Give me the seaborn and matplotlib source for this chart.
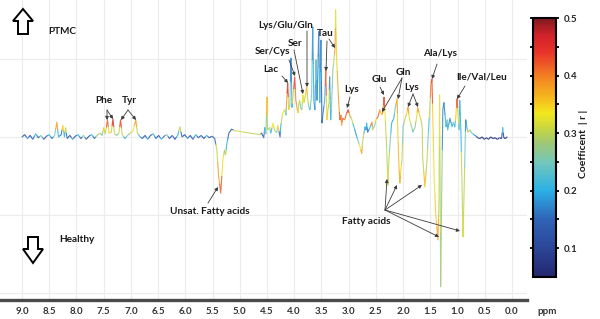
import numpy as np
import pandas as pd
import seaborn as sns
import matplotlib.pyplot as plt
from matplotlib.colors import LinearSegmentedColormap, Normalize
from matplotlib.cm import ScalarMappable
from matplotlib.patches import Polygon

# ---------------------------------------------------
# Data (ppm, loading, |r|)
# ---------------------------------------------------

# 9.0 - 4.6 ppm : aromatic baseline, Phe / Tyr, unsaturated fatty acid dip
arom_ppm = [9.00, 8.95, 8.90, 8.85, 8.80, 8.75, 8.70, 8.65, 8.60, 8.55, 8.50, 8.45, 8.40,
            8.36, 8.33, 8.28, 8.25, 8.22, 8.20, 8.17, 8.12, 8.07, 8.02, 7.97, 7.92, 7.87,
            7.82, 7.77, 7.72, 7.67, 7.62, 7.57, 7.53, 7.50, 7.47, 7.43, 7.40, 7.36, 7.33,
            7.30, 7.26, 7.22, 7.19, 7.16, 7.11, 7.06, 7.01, 6.96, 6.91, 6.88, 6.84, 6.79,
            6.74, 6.69, 6.64, 6.59, 6.54, 6.49, 6.44, 6.39, 6.34, 6.29, 6.24, 6.19, 6.14,
            6.10, 6.06, 6.01, 5.96, 5.91, 5.86, 5.81, 5.76, 5.71, 5.66, 5.61, 5.56, 5.51,
            5.46, 5.42, 5.39, 5.35, 5.31, 5.28, 5.26, 5.24, 5.20, 5.15, 5.09, 4.63]
arom_load = [0.00, 0.03, -0.02, 0.02, -0.03, 0.04, -0.01, 0.02, -0.03, 0.01, 0.03, -0.02, 0.02,
             0.19, 0.00, 0.03, 0.15, 0.00, 0.12, -0.02, 0.02, -0.03, 0.01, 0.03, -0.02, 0.02,
             -0.03, 0.01, 0.03, -0.02, 0.02, 0.05, 0.02, 0.12, 0.04, 0.22, 0.05, 0.06, 0.23,
             0.04, 0.02, 0.05, 0.22, 0.03, -0.02, 0.02, 0.05, 0.08, 0.22, 0.05, 0.01, -0.02,
             0.02, -0.03, 0.02, 0.04, -0.02, 0.02, -0.03, 0.01, 0.03, -0.02, 0.02, -0.03, 0.02,
             0.13, 0.00, 0.03, -0.02, 0.02, -0.03, 0.03, -0.01, 0.02, -0.02, 0.02, -0.01, 0.01,
             -0.02, -0.17, -0.49, -0.72, -0.29, -0.17, -0.23, -0.10, 0.05, 0.10, 0.08, 0.03]
arom_r = [0.15, 0.12, 0.18, 0.10, 0.15, 0.20, 0.12, 0.25, 0.15, 0.12, 0.20, 0.15, 0.25,
          0.38, 0.20, 0.15, 0.35, 0.20, 0.30, 0.15, 0.12, 0.18, 0.10, 0.20, 0.12, 0.25,
          0.15, 0.10, 0.20, 0.15, 0.28, 0.30, 0.25, 0.35, 0.30, 0.42, 0.35, 0.30, 0.45,
          0.30, 0.25, 0.30, 0.43, 0.30, 0.20, 0.25, 0.30, 0.33, 0.38, 0.30, 0.20, 0.15,
          0.12, 0.18, 0.10, 0.20, 0.15, 0.12, 0.20, 0.15, 0.25, 0.12, 0.15, 0.10, 0.20,
          0.30, 0.15, 0.12, 0.18, 0.10, 0.15, 0.20, 0.12, 0.15, 0.10, 0.20, 0.12, 0.15,
          0.15, 0.30, 0.38, 0.42, 0.33, 0.28, 0.30, 0.20, 0.15, 0.12, 0.31, 0.30]

# 4.6 - 3.0 ppm : Lac, Ser, Lys/Glu/Gln, Tau
mid_ppm = [4.60, 4.56, 4.54, 4.52, 4.50, 4.49, 4.45, 4.43, 4.39, 4.36, 4.32, 4.30, 4.26,
           4.25, 4.23, 4.21, 4.17, 4.15, 4.14, 4.12, 4.10, 4.08, 4.06, 4.04, 4.03, 3.99,
           3.97, 3.95, 3.93, 3.92, 3.90, 3.88, 3.86, 3.84, 3.82, 3.81, 3.79, 3.77, 3.75,
           3.73, 3.71, 3.69, 3.68, 3.66, 3.64, 3.62, 3.60, 3.58, 3.57, 3.55, 3.53, 3.51,
           3.49, 3.47, 3.44, 3.42, 3.40, 3.38, 3.36, 3.35, 3.33, 3.31, 3.29, 3.27, 3.25,
           3.24, 3.22, 3.20, 3.18, 3.16, 3.14, 3.13, 3.11, 3.07, 3.05, 3.01, 2.98]
mid_load = [0.05, -0.01, 0.12, 0.04, 0.51, 0.09, 0.12, 0.05, 0.18, 0.08, 0.06, 0.15, 0.00,
            0.12, 0.22, 0.31, 0.35, 0.28, 0.44, 0.69, 0.35, 0.41, 1.01, 0.38, 0.47, 0.77,
            0.47, 0.38, 0.31, 0.41, 0.47, 0.37, 0.35, 0.54, 0.44, 0.47, 0.56, 0.64, 0.47,
            0.38, 0.35, 0.47, 0.56, 1.41, 0.47, 0.35, 0.99, 0.47, 0.73, 1.35, 0.44, 1.24,
            0.18, 0.31, 0.47, 0.86, 0.22, 0.35, 0.44, 0.77, 0.22, 0.47, 0.86, 0.99, 1.14,
            1.63, 0.99, 0.69, 0.41, 0.22, 0.28, 0.15, 0.24, 0.22, 0.28, 0.35, 0.28]
mid_r = [0.12, 0.15, 0.20, 0.25, 0.36, 0.30, 0.30, 0.20, 0.33, 0.30, 0.25, 0.35, 0.15,
         0.20, 0.30, 0.33, 0.30, 0.25, 0.38, 0.45, 0.35, 0.25, 0.17, 0.20, 0.30, 0.43,
         0.40, 0.38, 0.35, 0.30, 0.30, 0.25, 0.28, 0.33, 0.32, 0.30, 0.35, 0.37, 0.30,
         0.25, 0.22, 0.25, 0.25, 0.18, 0.20, 0.18, 0.23, 0.18, 0.17, 0.17, 0.20, 0.17,
         0.14, 0.16, 0.20, 0.42, 0.35, 0.30, 0.30, 0.17, 0.20, 0.25, 0.27, 0.30, 0.38,
         0.32, 0.35, 0.37, 0.38, 0.42, 0.40, 0.38, 0.42, 0.40, 0.42, 0.44, 0.38]

# 3.0 - 0.6 ppm : Glu, Gln, Lys, Ala, Ile/Val/Leu and fatty acid dips
ali_ppm = [2.94, 2.90, 2.87, 2.85, 2.83, 2.79, 2.76, 2.74, 2.70, 2.68, 2.67, 2.65, 2.61,
           2.57, 2.56, 2.52, 2.50, 2.46, 2.43, 2.39, 2.37, 2.35, 2.33, 2.32, 2.30, 2.28,
           2.26, 2.24, 2.21, 2.17, 2.15, 2.11, 2.10, 2.08, 2.06, 2.04, 2.02, 2.00, 1.97,
           1.93, 1.91, 1.88, 1.84, 1.82, 1.78, 1.75, 1.73, 1.69, 1.67, 1.65, 1.64, 1.60,
           1.56, 1.54, 1.53, 1.51, 1.49, 1.47, 1.45, 1.43, 1.40, 1.36, 1.34, 1.33, 1.32,
           1.31, 1.29, 1.27, 1.25, 1.21, 1.19, 1.18, 1.14, 1.10, 1.08, 1.05, 1.03, 1.01,
           0.99, 0.97, 0.96, 0.94, 0.92, 0.90, 0.88, 0.86, 0.85, 0.83, 0.81, 0.77, 0.74,
           0.70, 0.66, 0.63]
ali_load = [0.22, 0.12, 0.05, 0.00, -0.04, -0.13, -0.21, -0.04, 0.13, 0.09, 0.18, 0.06, 0.12,
            0.19, 0.09, 0.15, 0.22, 0.26, 0.35, 0.28, 0.32, 0.51, 0.28, 0.13, -0.17, -0.62,
            -0.29, -0.08, 0.18, 0.24, 0.35, 0.49, 0.13, -0.29, -0.59, -0.42, -0.29, 0.13, 0.22,
            0.31, 0.38, 0.22, 0.12, 0.06, 0.13, 0.26, 0.38, 0.26, 0.22, 0.13, -0.26, -0.64,
            -0.29, 0.00, 0.13, 0.35, 0.67, 0.74, 0.13, -0.51, -1.00, -1.32, -0.81, 0.54, -0.55,
            -1.92, -0.68, 0.35, 0.44, 0.13, 0.22, 0.09, 0.24, 0.13, 0.19, 0.13, 0.28, 0.49,
            0.26, 0.09, 0.47, 0.13, -0.51, -1.28, -0.72, -0.08, 0.22, 0.13, 0.06, 0.09, 0.05,
            0.03, 0.01, -0.01]
ali_r = [0.30, 0.20, 0.18, 0.20, 0.25, 0.33, 0.38, 0.30, 0.20, 0.18, 0.20, 0.15, 0.20,
         0.40, 0.30, 0.25, 0.35, 0.42, 0.38, 0.35, 0.40, 0.43, 0.33, 0.30, 0.30, 0.31,
         0.30, 0.25, 0.20, 0.20, 0.25, 0.38, 0.35, 0.36, 0.37, 0.35, 0.30, 0.25, 0.30,
         0.35, 0.38, 0.32, 0.27, 0.25, 0.27, 0.32, 0.38, 0.35, 0.30, 0.30, 0.30, 0.36,
         0.30, 0.25, 0.22, 0.30, 0.40, 0.43, 0.35, 0.33, 0.35, 0.38, 0.30, 0.32, 0.30,
         0.28, 0.27, 0.17, 0.17, 0.20, 0.25, 0.20, 0.17, 0.20, 0.25, 0.20, 0.35, 0.42,
         0.35, 0.25, 0.20, 0.20, 0.30, 0.31, 0.30, 0.25, 0.17, 0.20, 0.30, 0.28, 0.25,
         0.20, 0.15, 0.10]

# 0.6 - 0.1 ppm : upfield baseline
tail_ppm = [0.59, 0.55, 0.51, 0.47, 0.43, 0.39, 0.35, 0.31, 0.27, 0.23, 0.19, 0.17, 0.15,
            0.12, 0.09]
tail_load = [-0.02, 0.00, -0.03, -0.01, -0.03, 0.00, -0.02, -0.01, -0.03, -0.01, -0.02,
             0.12, -0.01, -0.02, 0.00]
tail_r = [0.08, 0.07, 0.08, 0.07, 0.08, 0.07, 0.08, 0.07, 0.08, 0.09, 0.10, 0.22, 0.10,
          0.08, 0.08]

x_ticks = [9.0, 8.5, 8.0, 7.5, 7.0, 6.5, 6.0, 5.5, 5.0, 4.5, 4.0, 3.5, 3.0, 2.5, 2.0,
           1.5, 1.0, 0.5, 0.0]
cbar_ticks = [0.1, 0.2, 0.3, 0.4, 0.5]
r_min, r_max = 0.05, 0.5

# ---------------------------------------------------
# Colour map (navy -> cyan -> yellow -> red -> maroon)
# ---------------------------------------------------
cmap_stops = [(0.05, "#23276f"), (0.10, "#2b4597"), (0.15, "#2f64b8"), (0.20, "#2bb0e6"),
              (0.25, "#74c7bb"), (0.28, "#9cc77a"), (0.31, "#cbd83c"), (0.335, "#f2e81e"),
              (0.36, "#f6bb1f"), (0.40, "#f28022"), (0.44, "#e8342a"), (0.47, "#d2222a"),
              (0.50, "#7e1a1e")]
cmap = LinearSegmentedColormap.from_list(
    "coef", [((v - r_min) / (r_max - r_min), c) for v, c in cmap_stops])
norm = Normalize(r_min, r_max)

# ---------------------------------------------------
# Build per-point pieces so every piece of line takes the colour of its point
# ---------------------------------------------------
ppm = np.array(arom_ppm + mid_ppm + ali_ppm + tail_ppm)
load = np.array(arom_load + mid_load + ali_load + tail_load)
corr = np.array(arom_r + mid_r + ali_r + tail_r)

rows = []
n = len(ppm)
for i in range(n):
    left = i - 1 if i > 0 else i
    right = i + 1 if i < n - 1 else i
    pts = [((ppm[left] + ppm[i]) / 2, (load[left] + load[i]) / 2),
           (ppm[i], load[i]),
           ((ppm[right] + ppm[i]) / 2, (load[right] + load[i]) / 2)]
    for k, (px, py) in enumerate(pts):
        rows.append({"ppm": px, "loading": py, "seg": i, "order": k, "r": corr[i]})
seg_df = pd.DataFrame(rows)

# ---------------------------------------------------
# Figure
# ---------------------------------------------------
sns.set_theme(style="whitegrid", rc={"grid.color": "#ececec", "grid.linewidth": 0.8})
plt.rcParams["font.family"] = ["Lato", "DejaVu Sans"]
plt.rcParams["font.weight"] = "bold"

W, H = 600, 319
fig = plt.figure(figsize=(W / 100, H / 100), dpi=100)


def fp(x, y):
    return (x / W, 1 - y / H)


ax = fig.add_axes([0, 1 - 300 / H, 527 / W, 300 / H])
sns.lineplot(data=seg_df, x="ppm", y="loading", units="seg", estimator=None, sort=False,
             hue="r", palette=cmap, hue_norm=norm, legend=False, lw=0.8, alpha=0.85, ax=ax)

ax.set_xlim(9.404, -0.276)
ax.set_ylim(-2.09, 1.756)
ax.set_xticks(x_ticks)
ax.set_xticklabels([f"{t:.1f}" for t in x_ticks], fontsize=7, fontweight="bold", color="#333333")
ax.set_yticks([-2, -1, 0, 1])
ax.set_yticklabels([])
ax.tick_params(length=0, pad=5)
ax.set_xlabel("")
ax.set_ylabel("")
for side in ["left", "right", "top"]:
    ax.spines[side].set_visible(False)
ax.spines["bottom"].set_color("#4a4a4a")
ax.spines["bottom"].set_linewidth(2.4)
ax.patch.set_alpha(0)

fig.text(*fp(547, 311), "ppm", ha="center", va="center", fontsize=7, fontweight="bold",
         color="#333333")

# group arrows
up = [(23, 9), (33, 21), (28, 21), (28, 34), (18, 34), (18, 21), (13, 21)]
down = [(33, 263), (43, 249), (38, 249), (38, 237), (28, 237), (28, 249), (23, 249)]
for shape in (up, down):
    fig.patches.append(Polygon([fp(x, y) for x, y in shape], closed=True, facecolor="white",
                               edgecolor="black", lw=1.4, transform=fig.transFigure))

text_kw = dict(ha="center", va="center", fontsize=7.2, fontweight="bold", color="#1a1a1a")
fig.text(*fp(62, 32), "PTMC", **text_kw)
fig.text(*fp(77, 240), "Healthy", **text_kw)

labels = [("Phe", 104, 100), ("Tyr", 129, 100), ("Lac", 271, 70), ("Ser/Cys", 272, 52),
          ("Ser", 295, 43), ("Lys/Glu/Gln", 286, 25), ("Tau", 325, 33), ("Lys", 352, 89),
          ("Glu", 379, 80), ("Gln", 403, 72), ("Lys", 412, 88), ("Ala/Lys", 440, 54),
          ("Ile/Val/Leu", 482, 77), ("Unsat. Fatty acids", 210, 212), ("Fatty acids", 366, 222)]
for txt, x, y in labels:
    fig.text(*fp(x, y), txt, **text_kw)

arrows = [((107, 110), (107, 120)), ((107, 110), (113, 119)),
          ((128, 110), (121, 120)), ((128, 110), (136, 120)),
          ((282, 76), (288, 83)), ((289, 60), (295, 76)), ((294, 50), (303, 94)),
          ((307, 31), (307, 87)), ((327, 41), (326, 71)), ((329, 39), (335, 48)),
          ((350, 97), (347, 108)), ((380, 87), (384, 95)),
          ((402, 78), (382, 112)), ((402, 78), (398, 99)),
          ((413, 94), (408, 107)), ((413, 94), (418, 107)),
          ((437, 64), (432, 79)), ((465, 86), (457, 99)), ((208, 203), (218, 187)),
          ((385, 210), (387, 179)), ((385, 210), (397, 185)), ((385, 210), (422, 185)),
          ((385, 210), (439, 237)), ((385, 210), (460, 231))]
for start, end in arrows:
    ax.annotate("", xy=fp(*end), xycoords="figure fraction", xytext=fp(*start),
                textcoords="figure fraction",
                arrowprops=dict(arrowstyle="-|>", color="#3a3a3a", lw=0.6,
                                mutation_scale=5, shrinkA=0, shrinkB=0))

# colour bar
cax = fig.add_axes([533 / W, 1 - 277 / H, 23 / W, 259 / H])
cb = fig.colorbar(ScalarMappable(norm=norm, cmap=cmap), cax=cax)
cb.outline.set_linewidth(1.5)
cb.outline.set_edgecolor("black")
cb.set_ticks(cbar_ticks)
cb.set_ticklabels([f"{t:.1f}" for t in cbar_ticks])
cax.set_yticks([0.15, 0.25, 0.35, 0.45], minor=True)
cax.yaxis.set_ticks_position("both")
cax.tick_params(which="both", direction="inout", length=5, width=1.3, color="black",
                labelsize=7, pad=3)
for lab in cax.get_yticklabels():
    lab.set_fontweight("bold")
cax.grid(False)
fig.text(*fp(583, 144), "Coefficent  | r |", rotation=90, ha="center", va="center",
         fontsize=7.5, fontweight="bold", color="#1a1a1a")

fig.savefig("out.png", dpi=100)
